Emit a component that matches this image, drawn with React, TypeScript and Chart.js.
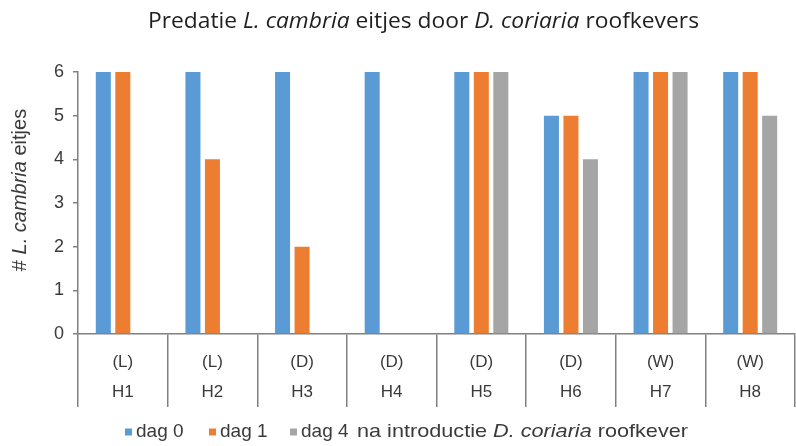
import { useEffect, useRef } from 'react';
import { Chart, registerables } from 'chart.js';

Chart.register(...registerables);

const groupLabels = ['(L)', '(L)', '(D)', '(D)', '(D)', '(D)', '(W)', '(W)'];
const houseLabels = ['H1', 'H2', 'H3', 'H4', 'H5', 'H6', 'H7', 'H8'];
const dag0 = [6, 6, 6, 6, 6, 5, 6, 6];
const dag1 = [6, 4, 2, 0, 6, 5, 6, 6];
const dag4 = [0, 0, 0, 0, 6, 4, 6, 5];
const seriesNames = ['dag 0', 'dag 1', 'dag 4'];
const seriesColors = ['#5B9BD5', '#ED7D31', '#A5A5A5'];
const yMin = 0;
const yMax = 6;
const yStep = 1;

type Seg = { t: string; i?: boolean };
const titleSegs: Seg[] = [
  { t: 'Predatie ' },
  { t: 'L. cambria', i: true },
  { t: ' eitjes door ' },
  { t: 'D. coriaria', i: true },
  { t: ' roofkevers' },
];
const yTitleSegs: Seg[] = [{ t: '# ' }, { t: 'L. cambria', i: true }, { t: ' eitjes' }];
const legendTailSegs: Seg[] = [
  { t: 'na introductie ' },
  { t: 'D. coriaria', i: true },
  { t: ' roofkever' },
];

const TEXT = '#3a3a3a';
const AXIS = '#808080';
const SANS = '"Liberation Sans", Arial, sans-serif';
const TITLE_FONT = '"Open Sans", sans-serif';

function fontStr(seg: Seg, size: number, family: string, weight = '') {
  return `${seg.i ? 'italic ' : ''}${weight ? weight + ' ' : ''}${size}px ${family}`;
}
function measureSegs(ctx: CanvasRenderingContext2D, segs: Seg[], size: number, family: string, weight = '') {
  let w = 0;
  for (const s of segs) {
    ctx.font = fontStr(s, size, family, weight);
    w += ctx.measureText(s.t).width;
  }
  return w;
}
function drawSegs(ctx: CanvasRenderingContext2D, segs: Seg[], x: number, y: number, size: number, family: string, weight = '') {
  let cx = x;
  for (const s of segs) {
    ctx.font = fontStr(s, size, family, weight);
    ctx.fillText(s.t, cx, y);
    cx += ctx.measureText(s.t).width;
  }
  return cx;
}

// legend layout (pixel positions of the marker squares and the trailing note)
const legendMarkerX = [125, 209, 290];
const legendTailX = 357;
const legendRight = 688;

const textPlugin = {
  id: 'richText',
  afterDraw(chart: any) {
    const ctx: CanvasRenderingContext2D = chart.ctx;
    ctx.save();
    ctx.textBaseline = 'middle';
    ctx.textAlign = 'left';

    // title, fitted between x=148 and x=699
    const tSize = 21;
    const tWeight = '500';
    const tw = measureSegs(ctx, titleSegs, tSize, TITLE_FONT, tWeight);
    const tLeft = 148;
    const tRight = 699;
    ctx.save();
    ctx.translate(tLeft, 22);
    ctx.scale((tRight - tLeft) / tw, 1);
    ctx.fillStyle = '#1f1f1f';
    drawSegs(ctx, titleSegs, 0, 0, tSize, TITLE_FONT, tWeight);
    ctx.restore();

    // y title
    ctx.fillStyle = TEXT;
    const ySize = 20;
    const yw = measureSegs(ctx, yTitleSegs, ySize, SANS);
    ctx.save();
    ctx.translate(20, 190);
    ctx.rotate(-Math.PI / 2);
    drawSegs(ctx, yTitleSegs, -yw / 2, 0, ySize, SANS);
    ctx.restore();

    // legend
    const lSize = 19;
    const ly = 432;
    const sq = 7;
    seriesNames.forEach((name, k) => {
      const mx = legendMarkerX[k];
      ctx.fillStyle = seriesColors[k];
      ctx.fillRect(mx, ly - sq / 2, sq, sq);
      ctx.fillStyle = TEXT;
      drawSegs(ctx, [{ t: name }], mx + sq + 4, ly, lSize, SANS);
    });
    const tailW = measureSegs(ctx, legendTailSegs, lSize, SANS);
    const sx = (legendRight - legendTailX) / tailW;
    ctx.save();
    ctx.translate(legendTailX, ly);
    ctx.scale(sx, 1);
    ctx.fillStyle = TEXT;
    drawSegs(ctx, legendTailSegs, 0, 0, lSize, SANS);
    ctx.restore();

    ctx.restore();
  },
};

export default function App() {
  const ref = useRef<HTMLCanvasElement | null>(null);
  useEffect(() => {
    if (!ref.current) return;
    const chart = new Chart(ref.current, {
      type: 'bar',
      data: {
        labels: groupLabels.map((g, i) => [g, houseLabels[i]]),
        datasets: [dag0, dag1, dag4].map((d, k) => ({
          label: seriesNames[k],
          data: d,
          backgroundColor: seriesColors[k],
          borderWidth: 0,
          categoryPercentage: 0.653,
          barPercentage: 0.77,
        })),
      },
      options: {
        animation: false,
        responsive: false,
        maintainAspectRatio: false,
        layout: { padding: { top: 72, right: 1, bottom: 0, left: 0 } },
        plugins: {
          legend: { display: false },
          title: { display: false },
          tooltip: { enabled: false },
        },
        scales: {
          x: {
            offset: true,
            grid: {
              offset: true,
              drawOnChartArea: false,
              drawTicks: true,
              tickLength: 73,
              color: AXIS,
              lineWidth: 1.5,
            },
            border: { color: AXIS, width: 1.5 },
            ticks: {
              color: TEXT,
              padding: -60,
              maxRotation: 0,
              autoSkip: false,
              font: { family: SANS, size: 17, lineHeight: 30 / 17 },
            },
            afterFit: (s: any) => {
              s.height = 112;
            },
          },
          y: {
            min: yMin,
            max: yMax,
            grid: {
              drawOnChartArea: false,
              drawTicks: true,
              tickLength: 5,
              color: AXIS,
              lineWidth: 1.5,
            },
            border: { color: AXIS, width: 1.5 },
            ticks: {
              stepSize: yStep,
              color: TEXT,
              padding: 9,
              font: { family: SANS, size: 18 },
            },
            afterFit: (s: any) => {
              s.width = 78;
            },
          },
        },
      },
      plugins: [textPlugin],
    });
    return () => chart.destroy();
  }, []);
  return (
    <div style={{ position: 'fixed', left: 0, top: 0, width: 796, height: 446, background: '#fff' }}>
      <canvas ref={ref} width={796} height={446} style={{ width: 796, height: 446 }} />
    </div>
  );
}
